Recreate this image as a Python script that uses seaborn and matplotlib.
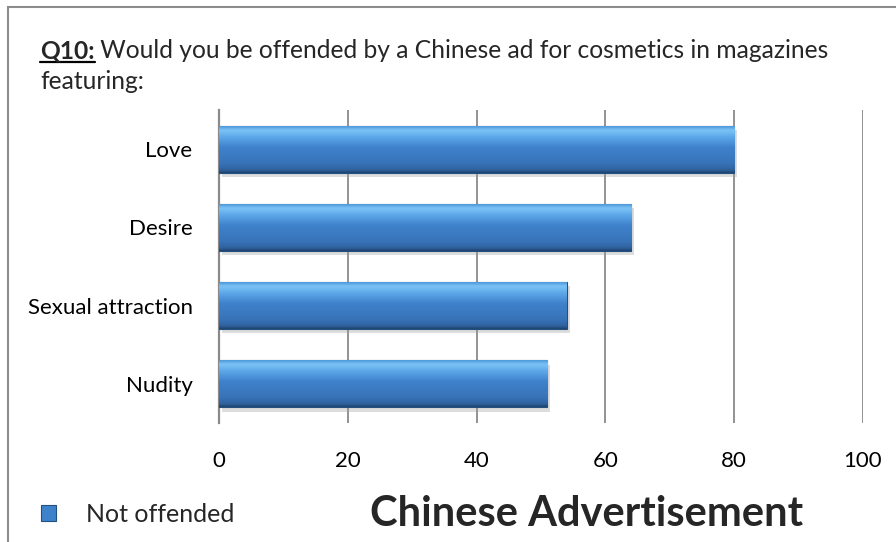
import numpy as np
import pandas as pd
import matplotlib
matplotlib.use('Agg')
import matplotlib.pyplot as plt
import seaborn as sns
from matplotlib import font_manager
from matplotlib.colors import LinearSegmentedColormap
from matplotlib.patches import Patch, Rectangle
from matplotlib.lines import Line2D
import matplotlib.patheffects as pe

# chart data
categories = ['Love', 'Desire', 'Sexual attraction', 'Nudity']
not_offended = [80, 64, 54, 51]
x_ticks = [0, 20, 40, 60, 80, 100]
series_name = 'Not offended'
title_bold = 'Q10:'
title_rest = ' Would you be offended by a Chinese ad for cosmetics in magazines'
title_line2 = 'featuring:'
footer = 'Chinese Advertisement'


def pick_font(names):
    for n in names:
        try:
            font_manager.findfont(n, fallback_to_default=False)
            return n
        except Exception:
            pass
    return 'DejaVu Sans'


sns.set_theme(style='white')
font = pick_font(['Lato', 'Open Sans'])
plt.rcParams['font.family'] = [font, 'DejaVu Sans']

W, H = 896, 542
fig = plt.figure(figsize=(W / 100, H / 100), dpi=100)
ax = fig.add_axes([219 / W, 1 - 423 / H, (863 - 219) / W, (423 - 110) / H])

df = pd.DataFrame({'cat': categories, 'val': not_offended})
sns.barplot(data=df, x='val', y='cat', orient='h', color='#3b7cc4',
            width=0.6, ax=ax, edgecolor='#23507f', linewidth=0.8, zorder=3)

ax.set_xlim(0, 100)
ax.set_ylim(3.5, -0.5)
ax.set_xticks(x_ticks)
ax.set_xlabel('')
ax.set_ylabel('')
ax.grid(axis='x', color='#8a8a8a', linewidth=1.3, zorder=0)
ax.grid(axis='y', visible=False)
for s in ['top', 'right', 'bottom']:
    ax.spines[s].set_visible(False)
ax.spines['left'].set_color('#8a8a8a')
ax.spines['left'].set_linewidth(1.6)
ax.tick_params(axis='both', length=0, labelsize=16, colors='black')
ax.tick_params(axis='y', pad=19)
ax.tick_params(axis='x', pad=20)

# glossy vertical gradient on each bar
grad = LinearSegmentedColormap.from_list('bar', [
    (0.0, '#4f98dc'), (0.08, '#7cc3f6'), (0.22, '#5ea9ea'),
    (0.45, '#3f82cc'), (0.8, '#3873b8'), (0.94, '#2f629e'), (1.0, '#1f456e')])
g = np.linspace(0, 1, 64).reshape(-1, 1)
for p in list(ax.patches):
    p.set_path_effects([pe.SimplePatchShadow(offset=(2, -3), shadow_rgbFace='#a0a0a0', alpha=0.35),
                        pe.Normal()])
    x0, y0 = p.get_x(), p.get_y()
    x1, y1 = x0 + p.get_width(), y0 + p.get_height()
    im = ax.imshow(g, cmap=grad, aspect='auto', extent=(x0, x1, y1, y0),
                   origin='upper', zorder=3.5, interpolation='bicubic')
    im.set_clip_path(p)
ax.set_xlim(0, 100)
ax.set_ylim(3.5, -0.5)

# title with underlined "Q10:"
t1 = fig.text(40 / W, 1 - 58 / H, title_bold, fontsize=17.7, fontweight='bold', va='baseline')
t2 = ax.annotate(title_rest, xy=(1, 0), xycoords=t1, fontsize=17.7, va='bottom',
                 annotation_clip=False)
fig.text(40 / W, 1 - 89 / H, title_line2, fontsize=17.7, va='baseline')
fig.canvas.draw()
bb = t1.get_window_extent()
fig.add_artist(Line2D([bb.x0 / W, bb.x1 / W], [(1 - 62 / H), (1 - 62 / H)],
                      color='black', linewidth=1.6, transform=fig.transFigure))

# legend and footer
handle = Patch(facecolor='#3f82cc', edgecolor='#23507f', linewidth=0.8)
fig.legend([handle], [series_name], loc='center left', bbox_to_anchor=(31 / W, 1 - 514 / H),
           frameon=False, fontsize=18, handlelength=0.6, handleheight=0.6,
           handletextpad=1.2, borderaxespad=0)
fig.text(587 / W, 1 - 514 / H, footer, fontsize=30, fontweight='bold', ha='center', va='center')

# outer frame (left and top edges visible)
fig.add_artist(Rectangle((8 / W, -0.05), 1.1, 1 - 7 / H + 0.05, transform=fig.transFigure,
                         fill=False, edgecolor='#8c8c8c', linewidth=1.5))

fig.savefig('out.png', dpi=100)
